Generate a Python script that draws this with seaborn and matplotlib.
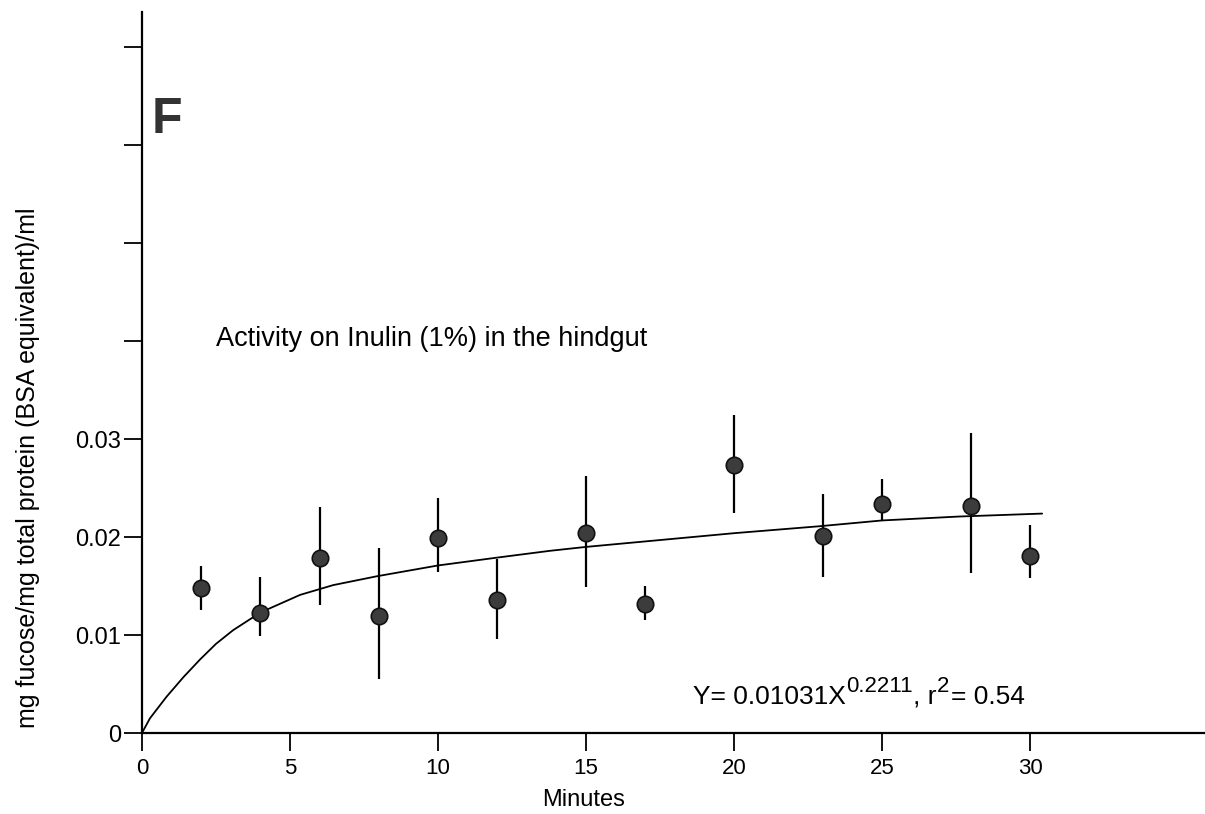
import matplotlib
matplotlib.use("Agg")
import matplotlib.pyplot as plt
import seaborn as sns
import pandas as pd

# Data (hindgut activity on inulin)
minutes = [2, 4, 6, 8, 10, 12, 15, 17, 20, 23, 25, 28, 30]
activity = [0.0148, 0.0123, 0.0179, 0.0119, 0.0199, 0.0136, 0.0204, 0.0132, 0.0274, 0.0201, 0.0234, 0.0232, 0.0181]
err_low = [0.0126, 0.0099, 0.0131, 0.0055, 0.0164, 0.0096, 0.0149, 0.0115, 0.0225, 0.0159, 0.0216, 0.0163, 0.0158]
err_high = [0.0171, 0.0159, 0.0231, 0.0189, 0.0240, 0.0178, 0.0262, 0.0150, 0.0325, 0.0244, 0.0259, 0.0306, 0.0212]

# fitted curve as drawn in the figure
fit_x = [0, 0.27, 0.83, 1.4, 1.96, 2.5, 3.08, 4.0, 5.34, 6.46, 7.93, 9.99, 11.98, 13.78, 15, 20, 22.85, 25, 27.6, 30.4]
fit_y = [0, 0.0015, 0.0037, 0.0057, 0.0075, 0.0091, 0.0105, 0.0123, 0.0141, 0.0151, 0.0160, 0.0171, 0.0179, 0.0186,
         0.0190, 0.0204, 0.0211, 0.0217, 0.0221, 0.0224]

x_ticks = [0, 5, 10, 15, 20, 25, 30]
y_ticks = [0, 0.01, 0.02, 0.03, 0.04, 0.05, 0.06, 0.07]
y_tick_labels = ["0", "0.01", "0.02", "0.03", "", "", "", ""]

points = pd.DataFrame({"Minutes": minutes, "Activity": activity})
curve = pd.DataFrame({"Minutes": fit_x, "Activity": fit_y})

sns.set_style("ticks")
plt.rcParams["font.family"] = ["Liberation Sans", "DejaVu Sans"]
plt.rcParams["text.color"] = "black"
plt.rcParams["axes.labelcolor"] = "black"

fig = plt.figure(figsize=(12.05, 8.14), dpi=100)
ax = fig.add_axes([0.1178, 0.0995, 0.8822, 0.8857])

sns.lineplot(data=curve, x="Minutes", y="Activity", color="black", linewidth=1.3, ax=ax)
ax.vlines(minutes, err_low, err_high, colors="black", linewidth=1.6, zorder=3)
sns.scatterplot(data=points, x="Minutes", y="Activity", s=140, color="#3c3c3c",
                edgecolor="#111111", linewidth=1.2, zorder=4, ax=ax)

ax.set_xlim(0, 35.9)
ax.set_ylim(0, 0.0736)
ax.set_xticks(x_ticks)
ax.set_xticklabels([str(t) for t in x_ticks])
ax.set_yticks(y_ticks)
ax.set_yticklabels(y_tick_labels)
ax.tick_params(axis="both", direction="out", length=13, width=1.3, colors="black")
ax.tick_params(axis="x", pad=5, labelsize=16)
ax.tick_params(axis="y", pad=2, labelsize=17)

sns.despine(ax=ax)
for side in ["left", "bottom"]:
    ax.spines[side].set_linewidth(1.6)
    ax.spines[side].set_color("black")

ax.set_xlabel("Minutes", fontsize=17, va="top")
ax.xaxis.set_label_coords(0.415, -0.078)
ax.set_ylabel("")
fig.text(28 / 1205, 1 - 468 / 814, "mg fucose/mg total protein (BSA equivalent)/ml",
         rotation=90, ha="center", va="center", fontsize=18)

ax.text(0.0094, 0.882, "F", transform=ax.transAxes, fontsize=36, fontweight="bold",
        color="#333333", ha="left", va="top")
ax.text(2.5, 0.0402, "Activity on Inulin (1%) in the hindgut", fontsize=19.5, ha="left", va="center")

# regression equation, built piece by piece so the superscripts stay large
eq1 = ax.text(18.6, 0.0025, "Y= 0.01031X", fontsize=19, ha="left", va="bottom")
eq2 = ax.annotate("0.2211", xy=(1, 0), xycoords=eq1, xytext=(0.5, 8.5), textcoords="offset points",
                  fontsize=16, va="bottom")
eq3 = ax.annotate(", r", xy=(1, 0), xycoords=(eq2, eq1), fontsize=19, va="bottom")
eq4 = ax.annotate("2", xy=(1, 0), xycoords=(eq3, eq1), xytext=(0.5, 8.5), textcoords="offset points",
                  fontsize=16, va="bottom")
ax.annotate("= 0.54", xy=(1, 0), xycoords=(eq4, eq1), xytext=(1, 0), textcoords="offset points",
            fontsize=19, va="bottom")

fig.savefig("out.png", dpi=100)
